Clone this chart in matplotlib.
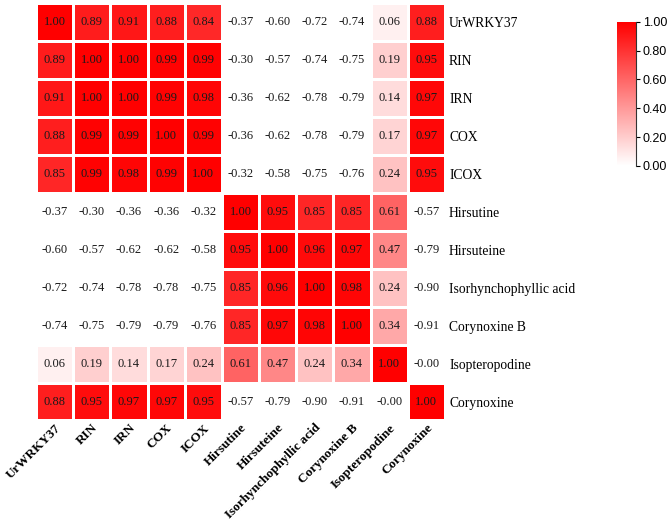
import matplotlib
matplotlib.use("Agg")
import matplotlib.pyplot as plt
import numpy as np
from matplotlib.colors import LinearSegmentedColormap

labels = ["UrWRKY37", "RIN", "IRN", "COX", "ICOX", "Hirsutine", "Hirsuteine",
          "Isorhynchophyllic acid", "Corynoxine B", "Isopteropodine", "Corynoxine"]

r_urwrky37 = [1.00, 0.89, 0.91, 0.88, 0.84, -0.37, -0.60, -0.72, -0.74, 0.06, 0.88]
r_rin = [0.89, 1.00, 1.00, 0.99, 0.99, -0.30, -0.57, -0.74, -0.75, 0.19, 0.95]
r_irn = [0.91, 1.00, 1.00, 0.99, 0.98, -0.36, -0.62, -0.78, -0.79, 0.14, 0.97]
r_cox = [0.88, 0.99, 0.99, 1.00, 0.99, -0.36, -0.62, -0.78, -0.79, 0.17, 0.97]
r_icox = [0.85, 0.99, 0.98, 0.99, 1.00, -0.32, -0.58, -0.75, -0.76, 0.24, 0.95]
r_hirsutine = [-0.37, -0.30, -0.36, -0.36, -0.32, 1.00, 0.95, 0.85, 0.85, 0.61, -0.57]
r_hirsuteine = [-0.60, -0.57, -0.62, -0.62, -0.58, 0.95, 1.00, 0.96, 0.97, 0.47, -0.79]
r_isorhyn = [-0.72, -0.74, -0.78, -0.78, -0.75, 0.85, 0.96, 1.00, 0.98, 0.24, -0.90]
r_corynoxine_b = [-0.74, -0.75, -0.79, -0.79, -0.76, 0.85, 0.97, 0.98, 1.00, 0.34, -0.91]
r_isopteropodine = [0.06, 0.19, 0.14, 0.17, 0.24, 0.61, 0.47, 0.24, 0.34, 1.00, -0.00]
r_corynoxine = [0.88, 0.95, 0.97, 0.97, 0.95, -0.57, -0.79, -0.90, -0.91, -0.00, 1.00]

corr = np.array([r_urwrky37, r_rin, r_irn, r_cox, r_icox, r_hirsutine, r_hirsuteine,
                 r_isorhyn, r_corynoxine_b, r_isopteropodine, r_corynoxine])

cmap = LinearSegmentedColormap.from_list("wr", ["#ffffff", "#ff0000"])
cmap.set_under("white")

fig = plt.figure(figsize=(6.68, 5.23), dpi=100)
ax = fig.add_axes([0.054, 0.196, 0.612, 0.798])
n = len(labels)
mesh = ax.pcolormesh(np.arange(n + 1), np.arange(n + 1), corr, cmap=cmap,
                     vmin=0, vmax=1, edgecolors="white", linewidth=1.0)
ax.set_xlim(0, n)
ax.set_ylim(n, 0)
for s in ax.spines.values():
    s.set_visible(False)

for i in range(n):
    for j in range(n):
        ax.text(j + 0.5, i + 0.5, f"{corr[i, j]:.2f}", ha="center", va="center",
                fontsize=9, family="Liberation Serif", color="#1a1a1a")

ax.set_xticks(np.arange(n) + 0.5)
ax.set_xticklabels(labels, rotation=45, ha="right", rotation_mode="anchor",
                   family="Liberation Serif", fontweight="bold", fontsize=9.5)
ax.yaxis.tick_right()
ax.set_yticks(np.arange(n) + 0.5)
ax.set_yticklabels(labels, family="Liberation Serif", fontsize=9.8)
ax.tick_params(axis="x", length=0, pad=1)
ax.tick_params(axis="y", length=0, pad=3)

cax = fig.add_axes([0.924, 0.683, 0.028, 0.275])
cbar = fig.colorbar(mesh, cax=cax, ticks=[0, 0.2, 0.4, 0.6, 0.8, 1.0])
cbar.outline.set_visible(False)
cbar.ax.set_yticklabels([f"{t:.2f}" for t in [0, 0.2, 0.4, 0.6, 0.8, 1.0]],
                        family="Liberation Sans", fontsize=9)
cbar.ax.tick_params(length=3, width=0.8, pad=2)
cbar.ax.plot([1, 1], [0, 1], transform=cbar.ax.transAxes, color="#333333",
             lw=0.8, clip_on=False)

fig.savefig("out.png", dpi=100, facecolor="white")
